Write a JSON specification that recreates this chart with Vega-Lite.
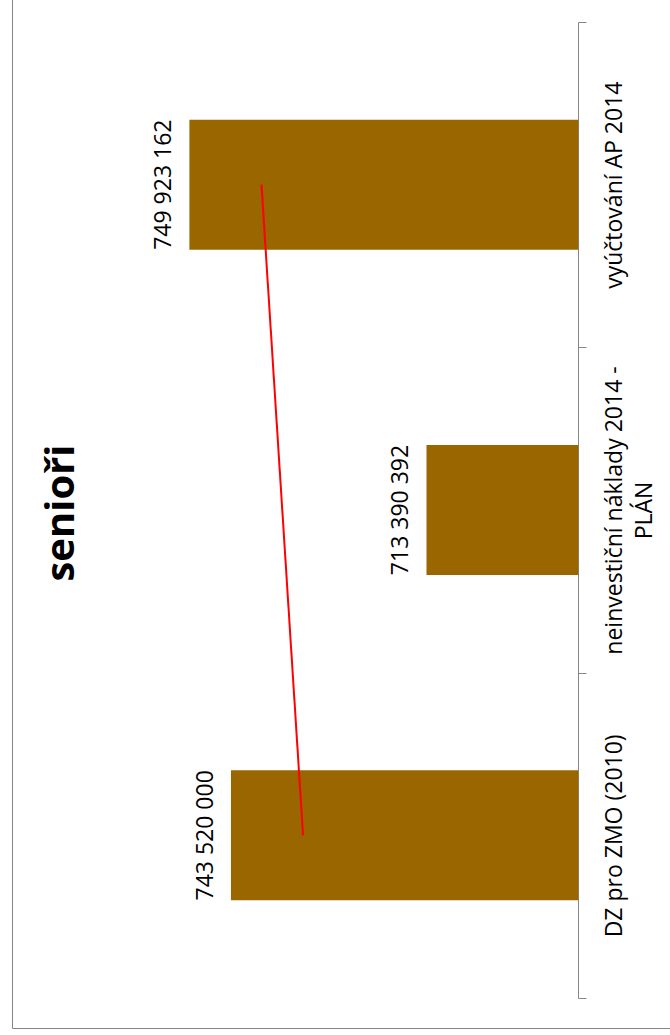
{
  "$schema": "https://vega.github.io/schema/vega-lite/v6.json",
  "autosize": "none",
  "padding": {"left": 12, "top": -2, "right": 0, "bottom": 7},
  "width": 660,
  "height": 1030,
  "title": {
    "text": "senioři",
    "orient": "left",
    "anchor": "middle",
    "angle": 270,
    "baseline": "alphabetic",
    "offset": -102,
    "font": "Open Sans",
    "fontSize": 40,
    "fontWeight": "bold",
    "color": "#000000"
  },
  "datasets": {
    "bars": [
      {"kategorie": "DZ pro ZMO (2010)", "hodnota": 743520000},
      {"kategorie": "neinvestiční náklady 2014 - PLÁN", "hodnota": 713390392},
      {"kategorie": "vyúčtování AP 2014", "hodnota": 749923162}
    ],
    "trend": [
      {"kategorie": "DZ pro ZMO (2010)", "hodnota": 732409604},
      {"kategorie": "vyúčtování AP 2014", "hodnota": 738812766}
    ]
  },
  "encoding": {
    "y": {
      "field": "kategorie",
      "type": "nominal",
      "sort": ["vyúčtování AP 2014", "neinvestiční náklady 2014 - PLÁN", "DZ pro ZMO (2010)"],
      "scale": {"range": [24, 1000], "paddingInner": 0, "paddingOuter": 0},
      "axis": {
        "orient": "right",
        "offset": -94,
        "title": null,
        "grid": false,
        "domainColor": "#868686",
        "domainWidth": 1,
        "tickColor": "#868686",
        "tickWidth": 1,
        "tickSize": 8,
        "tickBand": "extent",
        "labelAngle": 270,
        "labelAlign": "center",
        "labelBaseline": "alphabetic",
        "labelPadding": 35,
        "labelFont": "Open Sans",
        "labelFontSize": 23,
        "labelColor": "#000000",
        "labelLineHeight": 30,
        "labelLimit": 0,
        "labelOverlap": false,
        "labelExpr": "datum.value == 'neinvestiční náklady 2014 - PLÁN' ? ['neinvestiční náklady 2014 -', 'PLÁN'] : datum.label"
      }
    },
    "x": {
      "field": "hodnota",
      "type": "quantitative",
      "scale": {"domain": [675562000, 777257000], "reverse": true, "nice": false, "zero": false},
      "axis": null
    }
  },
  "layer": [
    {
      "data": {"name": "bars"},
      "mark": {"type": "bar", "size": 130, "color": "#996600"},
      "encoding": {"x2": {"datum": 690000000}}
    },
    {
      "data": {"name": "bars"},
      "mark": {
        "type": "text",
        "angle": 270,
        "align": "center",
        "baseline": "alphabetic",
        "dy": -18,
        "font": "Open Sans",
        "fontSize": 23,
        "color": "#000000"
      },
      "encoding": {"text": {"field": "hodnota", "type": "quantitative", "format": ",d"}}
    },
    {
      "data": {"name": "trend"},
      "mark": {"type": "line", "color": "#FF0000", "strokeWidth": 2},
      "encoding": {}
    }
  ],
  "config": {
    "view": {"stroke": "#868686", "strokeWidth": 1},
    "locale": {"number": {"decimal": ",", "thousands": " ", "grouping": [3], "currency": ["", " Kč"]}}
  }
}
